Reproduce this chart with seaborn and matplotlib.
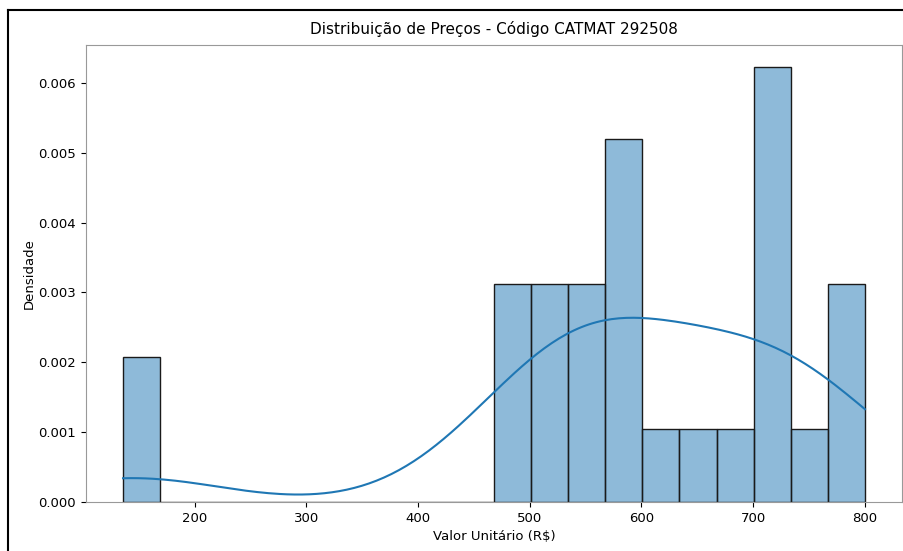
import matplotlib
matplotlib.use("Agg")
import matplotlib.pyplot as plt
from matplotlib.lines import Line2D
import seaborn as sns
import pandas as pd

precos = [136.0, 152.0,
          470.0, 482.0, 499.0,
          510.0, 520.0, 530.0,
          540.0, 552.0, 562.0,
          572.0, 580.0, 586.0, 592.0, 599.0,
          615.0,
          650.0,
          680.0,
          701.0, 705.0, 710.0, 715.0, 720.0, 725.0,
          745.0,
          770.0, 776.0, 800.0]

titulo = "Distribuição de Preços - Código CATMAT 292508"
rotulo_x = "Valor Unitário (R$)"
rotulo_y = "Densidade"

df = pd.DataFrame({"valor": precos})

fig = plt.figure(figsize=(9.04, 5.51), dpi=100)
ax = fig.add_axes([0.0951, 0.0889, 0.9027, 0.8294])
sns.histplot(data=df, x="valor", bins=20, stat="density", kde=True,
             color="#1f77b4", edgecolor="#1a1a1a", linewidth=1.0, ax=ax,
             line_kws={"linewidth": 1.5})
ax.set_title(titulo, fontsize=11, pad=8)
ax.set_xlabel(rotulo_x, fontsize=9.5)
ax.set_ylabel(rotulo_y, fontsize=9.5, labelpad=2)
ax.tick_params(labelsize=9.5)
for s in ax.spines.values():
    s.set_color("#999999")

# document frame lines around the screenshot
fig.add_artist(Line2D([8/904, 8/904], [0, 1 - 10/551], color="black", lw=1.5))
fig.add_artist(Line2D([8/904, 1], [1 - 10/551, 1 - 10/551], color="black", lw=1.5))

fig.savefig("out.png", dpi=100)
